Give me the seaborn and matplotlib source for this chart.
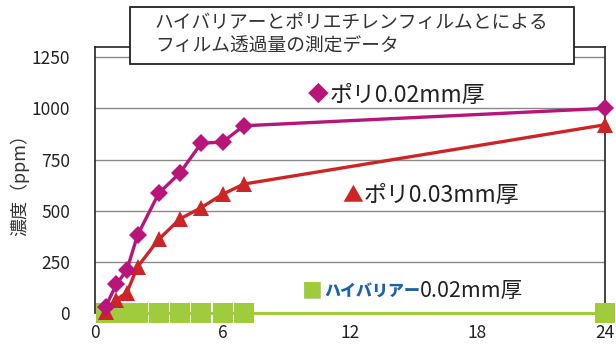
import matplotlib
matplotlib.use("Agg")
import matplotlib.pyplot as plt
import seaborn as sns
import pandas as pd
from matplotlib.patches import Rectangle

# measured data (hours vs concentration in ppm)
hours = [0.5, 1, 1.5, 2, 3, 4, 5, 6, 7, 24]
poly_002 = [30, 140, 210, 380, 585, 685, 830, 835, 915, 1000]
poly_003 = [5, 65, 100, 225, 360, 460, 515, 580, 630, 920]
hibarrier_002 = [0, 0, 0, 0, 0, 0, 0, 0, 0, 0]

x_ticks = [0, 6, 12, 18, 24]
y_ticks = [0, 250, 500, 750, 1000, 1250]

title_lines = ["ハイバリアーとポリエチレンフィルムとによる", "フィルム透過量の測定データ"]
y_label = "濃度（ppm）"

MAGENTA = "#b8157a"
RED = "#cc2528"
GREEN = "#9fcb3c"
BLUE = "#1b62ad"

sns.set_style("white")
plt.rcParams["font.family"] = ["Noto Sans CJK JP", "DejaVu Sans"]

W, H = 616, 349
fig = plt.figure(figsize=(W / 100, H / 100), dpi=100)
ax = fig.add_axes([95 / W, 1 - 313 / H, 510 / W, 266 / H])

df = pd.DataFrame({"h": hours, "p2": poly_002, "p3": poly_003, "hb": hibarrier_002})

sns.lineplot(data=df, x="h", y="hb", ax=ax, color=GREEN, lw=2.2, marker="s",
             markersize=14, markeredgewidth=0, clip_on=False, zorder=3)
sns.lineplot(data=df, x="h", y="p3", ax=ax, color=RED, lw=2.4, marker="^",
             markersize=11, markeredgewidth=0, clip_on=False, zorder=4)
sns.lineplot(data=df, x="h", y="p2", ax=ax, color=MAGENTA, lw=2.4, marker="D",
             markersize=9, markeredgewidth=0, clip_on=False, zorder=5)

ax.set_xlim(0, 24)
ax.set_ylim(0, 1300)
ax.set_xticks(x_ticks)
ax.set_yticks(y_ticks)
ax.yaxis.grid(True, color="#8a8a8a", lw=1.0)
ax.xaxis.grid(False)
ax.set_xlabel("")
ax.set_ylabel(y_label, fontsize=13, color="#333333")
ax.yaxis.set_label_coords(-66 / 510, 0.5)
ax.tick_params(axis="x", direction="in", length=3, pad=8, labelsize=12.5, colors="#222222")
ax.tick_params(axis="y", length=0, pad=18, labelsize=12.5, colors="#222222")
for side in ["left", "right", "top"]:
    ax.spines[side].set_color("#222222")
    ax.spines[side].set_linewidth(1.2)
ax.spines["bottom"].set_visible(False)


def px(x, y):
    return x / W, 1 - y / H


# title box
fig.patches.append(Rectangle(px(130, 64), 444 / W, 57 / H, transform=fig.transFigure,
                             facecolor="white", edgecolor="#222222", lw=1.3, zorder=10))
fig.text(*px(155, 22), title_lines[0], fontsize=13.5, va="center", color="#333333", zorder=11)
fig.text(*px(155, 46), title_lines[1], fontsize=13.5, va="center", color="#333333", zorder=11)

# series labels
fig.text(*px(308, 95), "◆", fontsize=15, va="center", color=MAGENTA)
fig.text(*px(330, 95), "ポリ0.02mm厚", fontsize=16.5, va="center", color="#222222")
fig.text(*px(342, 195), "▲", fontsize=15, va="center", color=RED)
fig.text(*px(364, 195), "ポリ0.03mm厚", fontsize=16.5, va="center", color="#222222")
fig.text(*px(302, 291), "■", fontsize=15, va="center", color=GREEN)
fig.text(*px(324, 291), "ハイバリアー", fontsize=11.5, va="center", color=BLUE, fontweight="heavy")
fig.text(*px(420, 291), "0.02mm厚", fontsize=15.5, va="center", color="#222222")

fig.savefig("out.png", dpi=100)
